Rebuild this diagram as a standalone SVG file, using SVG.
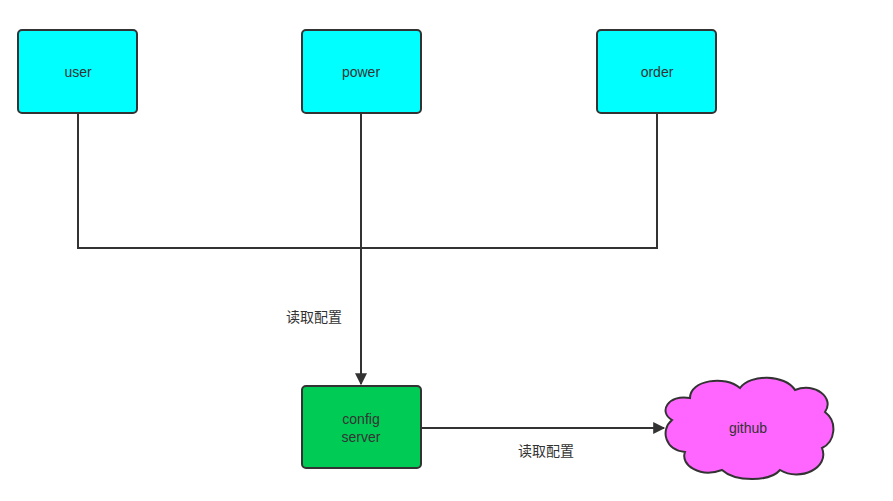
<svg xmlns="http://www.w3.org/2000/svg" width="893" height="501" viewBox="0 0 893 501">
<style>
.box{fill:#00ffff;stroke:#333;stroke-width:2}
.t{font-family:"Liberation Sans","Noto Sans CJK SC",sans-serif;font-size:14px;fill:#333;text-anchor:middle}
.c{fill:none;stroke:#333;stroke-width:2}
</style>
<defs><marker id="a" viewBox="0 0 10 10" refX="9" refY="5" markerWidth="7" markerHeight="7" orient="auto" markerUnits="userSpaceOnUse"><path d="M0,0L10,5L0,10Z" fill="#333"/></marker>
<marker id="m" viewBox="0 0 10 10" refX="9" refY="5" markerWidth="14" markerHeight="12" orient="auto" markerUnits="userSpaceOnUse"><path d="M0,0L10,5L0,10Z" fill="#333"/></marker></defs>
<rect width="893" height="501" fill="#fff"/>
<g id="connectors">
<path class="c" d="M78,113V248H657V113M361,113V384" marker-end="url(#m)"/>
<path class="c" d="M421,428H664" marker-end="url(#m)"/>
<text class="t" x="314" y="322">读取配置</text>
<text class="t" x="546" y="456">读取配置</text>
</g>
<g id="user"><rect class="box" x="18" y="30" width="119" height="83" rx="4"/><text class="t" x="78" y="77">user</text></g>
<g id="power"><rect class="box" x="302" y="30" width="119" height="83" rx="4"/><text class="t" x="361" y="77">power</text></g>
<g id="order"><rect class="box" x="597" y="30" width="119" height="83" rx="4"/><text class="t" x="657" y="77">order</text></g>
<g id="config"><rect x="302" y="386" width="119" height="82" rx="4" fill="#00cc55" stroke="#333" stroke-width="2"/><text class="t" x="361" y="424">config</text><text class="t" x="361" y="442">server</text></g>
<g id="github"><path d="M690,398 C690,380 725,375 740,388 C750,374 785,374 795,390 C815,382 835,398 825,412 C838,422 835,442 822,448 C830,468 800,482 780,470 C770,482 735,482 722,470 C700,478 680,465 685,452 C665,450 660,430 672,420 C658,412 668,394 690,398 Z" fill="#ff66ff" stroke="#333" stroke-width="2"/><text class="t" x="748" y="433">github</text></g>
</svg>
